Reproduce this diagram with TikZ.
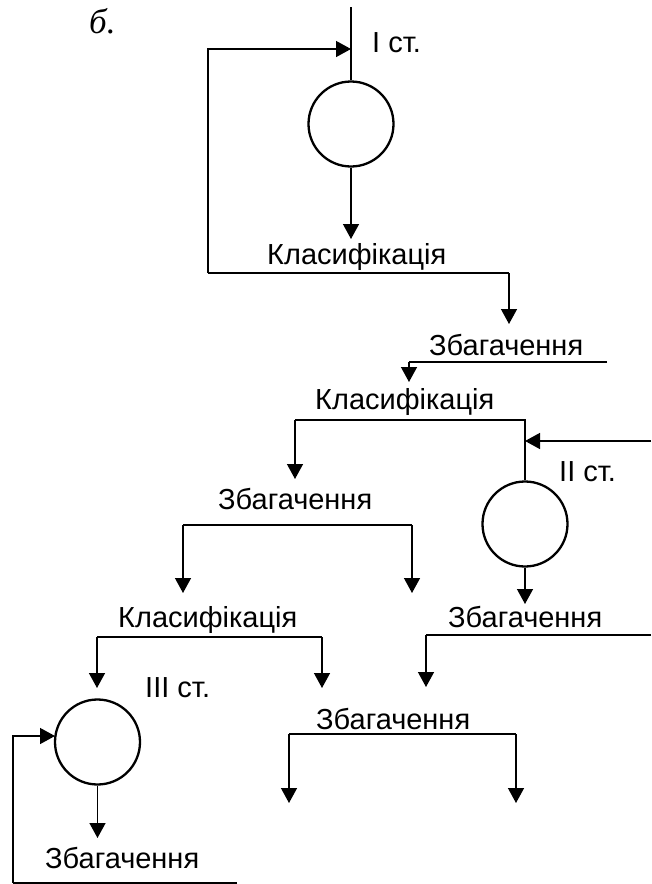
\documentclass[tikz,border=0pt]{standalone}
\usepackage{fontspec}
\setmainfont{Liberation Sans}
\newfontfamily\tnr{Liberation Serif}
\usetikzlibrary{arrows.meta}

\tikzset{
  lbl/.style={inner sep=0pt, anchor=base west, font=\fontsize{29}{29}\selectfont},
  flow/.style={line width=1.4pt},
  arr/.style={flow, -{Triangle[length=15pt,width=16pt]}},
  stage/.style={circle, draw, line width=2.3pt, minimum size=85pt, inner sep=0pt},
}

\begin{document}
\begin{tikzpicture}[x=1pt,y=-1pt]
\useasboundingbox (0,0) rectangle (651,884);

% mark of the scheme
\node[inner sep=0pt, anchor=base west, font=\tnr\itshape\fontsize{35}{35}\selectfont] (mark) at (89,33) {б.};

% grinding stages
\node[stage] (s1) at (351,124) {};
\node[stage] (s2) at (525,524) {};
\node[stage] (s3) at (97.5,742) {};

% labels
\node[lbl] (st1) at (372,52) {I ст.};
\node[lbl] (k1) at (267,264) {Класифікація};
\node[lbl] (z1) at (429,355) {Збагачення};
\node[lbl] (k2) at (315,409) {Класифікація};
\node[lbl] (st2) at (559,481) {II ст.};
\node[lbl] (z2) at (218,509) {Збагачення};
\node[lbl] (k3) at (118,627) {Класифікація};
\node[lbl] (z3) at (448,627) {Збагачення};
\node[lbl] (st3) at (145,697) {III ст.};
\node[lbl] (z4) at (316,729) {Збагачення};
\node[lbl] (z5) at (45,868) {Збагачення};

% junction points
\coordinate (feed1) at (351,7);
\coordinate (ret1) at (351,49);
\coordinate (k1in) at (351,239);
\coordinate (k1l) at (208,273);
\coordinate (k1r) at (509,273);
\coordinate (z1in) at (509,324);
\coordinate (z1l) at (409,362);
\coordinate (z1r) at (607,362);
\coordinate (k2in) at (409,382);
\coordinate (k2l) at (295,420);
\coordinate (k2r) at (525,420);
\coordinate (z2in) at (295,479);
\coordinate (feed2) at (651,441);
\coordinate (ret2) at (525,441);
\coordinate (z3in) at (525,604);
\coordinate (z3l) at (426,635);
\coordinate (z3r) at (651,635);
\coordinate (z4in) at (426,687);
\coordinate (z2l) at (183,525);
\coordinate (z2r) at (412,525);
\coordinate (k3in) at (183,593);
\coordinate (z2out) at (412,593);
\coordinate (k3l) at (97,637);
\coordinate (k3r) at (322,637);
\coordinate (s3top) at (97,688);
\coordinate (k3out) at (322,688);
\coordinate (z4l) at (289,734);
\coordinate (z4r) at (516,734);
\coordinate (z4outl) at (289,803);
\coordinate (z4outr) at (516,803);
\coordinate (s3in) at (55,736);
\coordinate (z5in) at (97.5,838);
\coordinate (z5l) at (13,883);
\coordinate (z5r) at (237,883);

% stage I
\draw[flow] (feed1) -- (s1.north);
\draw[arr] (s1.south) -- (k1in);
\draw[flow] (k1l) -- (k1r);
\draw[arr] (k1r) -- (z1in);
\draw[arr] (k1l) |- (ret1);

% first enrichment and classification
\draw[flow] (z1r) -- (z1l);
\draw[arr] (z1l) -- (k2in);
\draw[flow] (k2l) -- (k2r) -- (s2.north);
\draw[arr] (k2l) -- (z2in);
\draw[arr] (feed2) -- (ret2);

% stage II
\draw[arr] (s2.south) -- (z3in);
\draw[flow] (z3r) -- (z3l);
\draw[arr] (z3l) -- (z4in);

% second enrichment
\draw[flow] (z2l) -- (z2r);
\draw[arr] (z2l) -- (k3in);
\draw[arr] (z2r) -- (z2out);

% third classification
\draw[flow] (k3l) -- (k3r);
\draw[arr] (k3l) -- (s3top);
\draw[arr] (k3r) -- (k3out);

% enrichment after stage II
\draw[flow] (z4l) -- (z4r);
\draw[arr] (z4l) -- (z4outl);
\draw[arr] (z4r) -- (z4outr);

% stage III
\draw[arr] (s3.south) -- (z5in);
\draw[flow] (z5r) -- (z5l);
\draw[arr] (z5l) |- (s3in);
\end{tikzpicture}
\end{document}
